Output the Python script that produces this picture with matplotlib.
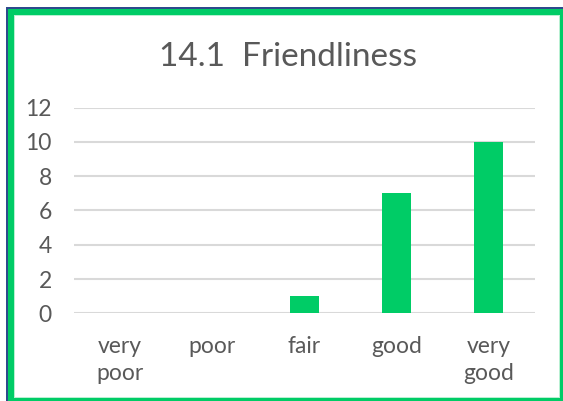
import matplotlib.pyplot as plt
from matplotlib.patches import Rectangle
import numpy as np

# ── Data ─────────────────────────────────────
categories = ["very\npoor", "poor", "fair", "good", "very\ngood"]
counts     = [0, 0, 1, 7, 10]
y_ticks    = [0, 2, 4, 6, 8, 10, 12]
title      = "14.1  Friendliness"

# ── Style ────────────────────────────────────
W, H      = 563, 401
BAR_GREEN = "#00cc66"
FRAME_BLU = "#2e4a8c"
GRID_GREY = "#d9d9d9"
TEXT_GREY = "#595959"

plt.rcParams["font.family"] = ["Lato", "DejaVu Sans"]

fig = plt.figure(figsize=(W / 100, H / 100), dpi=100)


def px(x0, y0, x1, y1):
    """pixel box (top-left origin) -> figure fraction rect"""
    return (x0 / W, 1 - y1 / H, (x1 - x0) / W, (y1 - y0) / H)


def box(x0, y0, x1, y1, color):
    l, b, w, h = px(x0, y0, x1, y1)
    fig.add_artist(Rectangle((l, b), w, h, transform=fig.transFigure,
                             facecolor=color, edgecolor="none", zorder=-5))


# Frame: thin dark blue outer edge, then thick green border
box(6, 7, 563, 401, FRAME_BLU)
box(8, 9, 563, 401, BAR_GREEN)
box(14, 15, 560, 398, "#b8f0d2")
box(15, 16, 559, 397, "white")

l, b, w, h = px(74, 107.5, 535, 313.3)
ax = fig.add_axes([l, b, w, h])

x = np.arange(len(categories))
ax.bar(x, counts, width=0.315, color=BAR_GREEN, zorder=3)

ax.set_xlim(-0.5, len(categories) - 0.5)
ax.set_ylim(0, 12)
ax.set_yticks(y_ticks)
ax.set_xticks(x)
ax.set_xticklabels(categories, linespacing=1.4)
ax.yaxis.grid(True, color=GRID_GREY, lw=1.5, zorder=0)
ax.set_axisbelow(True)
ax.set_facecolor("none")

for s in ax.spines.values():
    s.set_visible(False)

ax.tick_params(axis="both", length=0, labelsize=16.5, labelcolor=TEXT_GREY)
ax.tick_params(axis="y", pad=16)
ax.tick_params(axis="x", pad=16)

fig.text(288 / W, 1 - 57 / H, title, ha="center", va="center",
         fontsize=24, color=TEXT_GREY)

fig.savefig("out.png", dpi=100)
